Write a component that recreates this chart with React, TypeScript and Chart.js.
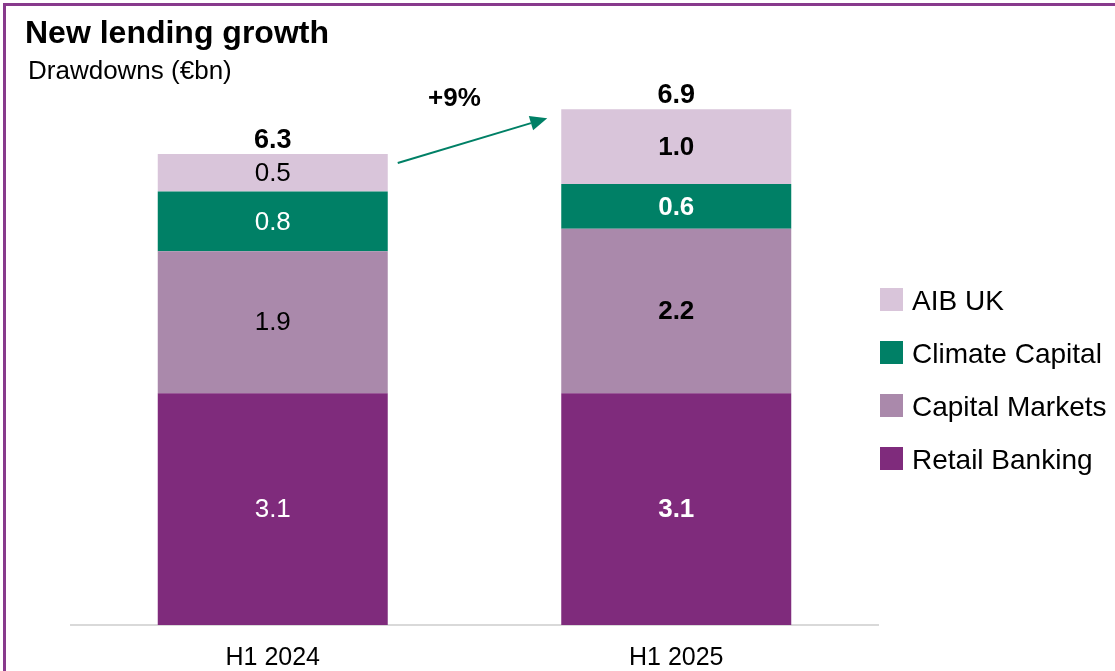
import React, { useEffect, useRef } from "react";
import { Chart, registerables } from "chart.js";

Chart.register(...registerables);

const categories = ["H1 2024", "H1 2025"];
const retailBanking = [3.1, 3.1];
const capitalMarkets = [1.9, 2.2];
const climateCapital = [0.8, 0.6];
const aibUk = [0.5, 1.0];
const totals = [6.3, 6.9];
const growthLabel = "+9%";
const seriesNames = ["Retail Banking", "Capital Markets", "Climate Capital", "AIB UK"];
const seriesValues = [retailBanking, capitalMarkets, climateCapital, aibUk];
const seriesColors = ["#7F2B7C", "#AA89AB", "#008066", "#D9C5DA"];
const labelColors = ["#FFFFFF", "#000000", "#FFFFFF", "#000000"];

const FONT = "'Liberation Sans', Arial, Helvetica, sans-serif";
const ARROW = "#008066";

const labelsPlugin = {
  id: "customLabels",
  afterDatasetsDraw(chart: any) {
    const ctx = chart.ctx;
    const yScale = chart.scales.y;
    ctx.save();
    ctx.textAlign = "center";
    chart.data.datasets.forEach((ds: any, di: number) => {
      const meta = chart.getDatasetMeta(di);
      meta.data.forEach((bar: any, i: number) => {
        const v = ds.data[i] as number;
        const mid = (bar.y + bar.base) / 2;
        ctx.fillStyle = labelColors[di];
        ctx.font = `${i === 1 ? "bold " : ""}26px ${FONT}`;
        ctx.textBaseline = "middle";
        ctx.fillText(v.toFixed(1), bar.x, mid + 1);
      });
    });

    const topMeta = chart.getDatasetMeta(chart.data.datasets.length - 1);
    ctx.fillStyle = "#000000";
    ctx.font = `bold 27px ${FONT}`;
    ctx.textBaseline = "alphabetic";
    totals.forEach((t, i) => {
      const bar = topMeta.data[i];
      ctx.fillText(t.toFixed(1), bar.x, yScale.getPixelForValue(t) - 6);
    });

    // growth arrow
    const b0 = topMeta.data[0];
    const b1 = topMeta.data[1];
    const x1 = b0.x + b0.width / 2 + 10;
    const y1 = yScale.getPixelForValue(totals[0]) + 9;
    const x2 = b1.x - b1.width / 2 - 14;
    const y2 = yScale.getPixelForValue(totals[1]) + 9;
    const ang = Math.atan2(y2 - y1, x2 - x1);
    const headLen = 17;
    const headHalf = 7.5;
    const bx = x2 - headLen * Math.cos(ang);
    const by = y2 - headLen * Math.sin(ang);
    ctx.strokeStyle = ARROW;
    ctx.lineWidth = 2;
    ctx.beginPath();
    ctx.moveTo(x1, y1);
    ctx.lineTo(bx, by);
    ctx.stroke();
    ctx.fillStyle = ARROW;
    ctx.beginPath();
    ctx.moveTo(x2, y2);
    ctx.lineTo(bx + headHalf * Math.sin(ang), by - headHalf * Math.cos(ang));
    ctx.lineTo(bx - headHalf * Math.sin(ang), by + headHalf * Math.cos(ang));
    ctx.closePath();
    ctx.fill();

    ctx.fillStyle = "#000000";
    ctx.font = `bold 26px ${FONT}`;
    ctx.textBaseline = "middle";
    ctx.fillText(growthLabel, (x1 + x2) / 2 - 18, (y1 + y2) / 2 - 42);
    ctx.restore();
  },
};

export default function App() {
  const canvasRef = useRef<HTMLCanvasElement | null>(null);

  useEffect(() => {
    const canvas = canvasRef.current;
    if (!canvas) return;
    const chart = new Chart(canvas, {
      type: "bar",
      data: {
        labels: categories,
        datasets: seriesNames.map((name, i) => ({
          label: name,
          data: seriesValues[i],
          backgroundColor: seriesColors[i],
          borderWidth: 0,
          categoryPercentage: 1,
          barPercentage: 0.57,
        })),
      },
      options: {
        responsive: false,
        animation: false,
        devicePixelRatio: 1,
        layout: { padding: { left: 71, right: 237, top: 27, bottom: 0 } },
        plugins: {
          legend: { display: false },
          tooltip: { enabled: false },
          title: { display: false },
        },
        scales: {
          x: {
            stacked: true,
            grid: { display: false, drawTicks: false },
            border: { display: true, color: "#D9D9D9", width: 2 },
            ticks: {
              color: "#000000",
              font: { family: FONT, size: 25 },
              padding: 18,
            },
            afterFit: (scale: any) => {
              scale.height = 46;
            },
          },
          y: {
            stacked: true,
            display: false,
            min: 0,
            max: 8,
          },
        },
      },
      plugins: [labelsPlugin],
    });
    return () => chart.destroy();
  }, []);

  const legendOrder = [3, 2, 1, 0];

  return (
    <div
      style={{
        position: "fixed",
        left: 0,
        top: 0,
        width: 1115,
        height: 671,
        background: "#FFFFFF",
        overflow: "hidden",
        fontFamily: FONT,
      }}
    >
      <div
        style={{
          position: "absolute",
          left: 3,
          top: 3,
          width: 1115,
          height: 671,
          borderTop: "3px solid #883A8C",
          borderLeft: "3px solid #883A8C",
          boxSizing: "border-box",
        }}
      />
      <canvas
        ref={canvasRef}
        width={1115}
        height={671}
        style={{ position: "absolute", left: 0, top: 0, width: 1115, height: 671, display: "block" }}
      />
      <div
        style={{
          position: "absolute",
          left: 25,
          top: 16,
          fontSize: 32,
          lineHeight: "32px",
          fontWeight: "bold",
          color: "#000",
          whiteSpace: "nowrap",
        }}
      >
        New lending growth
      </div>
      <div
        style={{
          position: "absolute",
          left: 28,
          top: 57,
          fontSize: 26,
          lineHeight: "26px",
          color: "#000",
          whiteSpace: "nowrap",
        }}
      >
        Drawdowns (€bn)
      </div>
      {legendOrder.map((si, row) => (
        <div
          key={seriesNames[si]}
          style={{ position: "absolute", left: 880, top: 288 + row * 53, height: 23 }}
        >
          <div
            style={{
              position: "absolute",
              left: 0,
              top: 0,
              width: 23,
              height: 23,
              background: seriesColors[si],
            }}
          />
          <div
            style={{
              position: "absolute",
              left: 32,
              top: -1,
              fontSize: 28,
              lineHeight: "28px",
              color: "#000",
              whiteSpace: "nowrap",
            }}
          >
            {seriesNames[si]}
          </div>
        </div>
      ))}
    </div>
  );
}
